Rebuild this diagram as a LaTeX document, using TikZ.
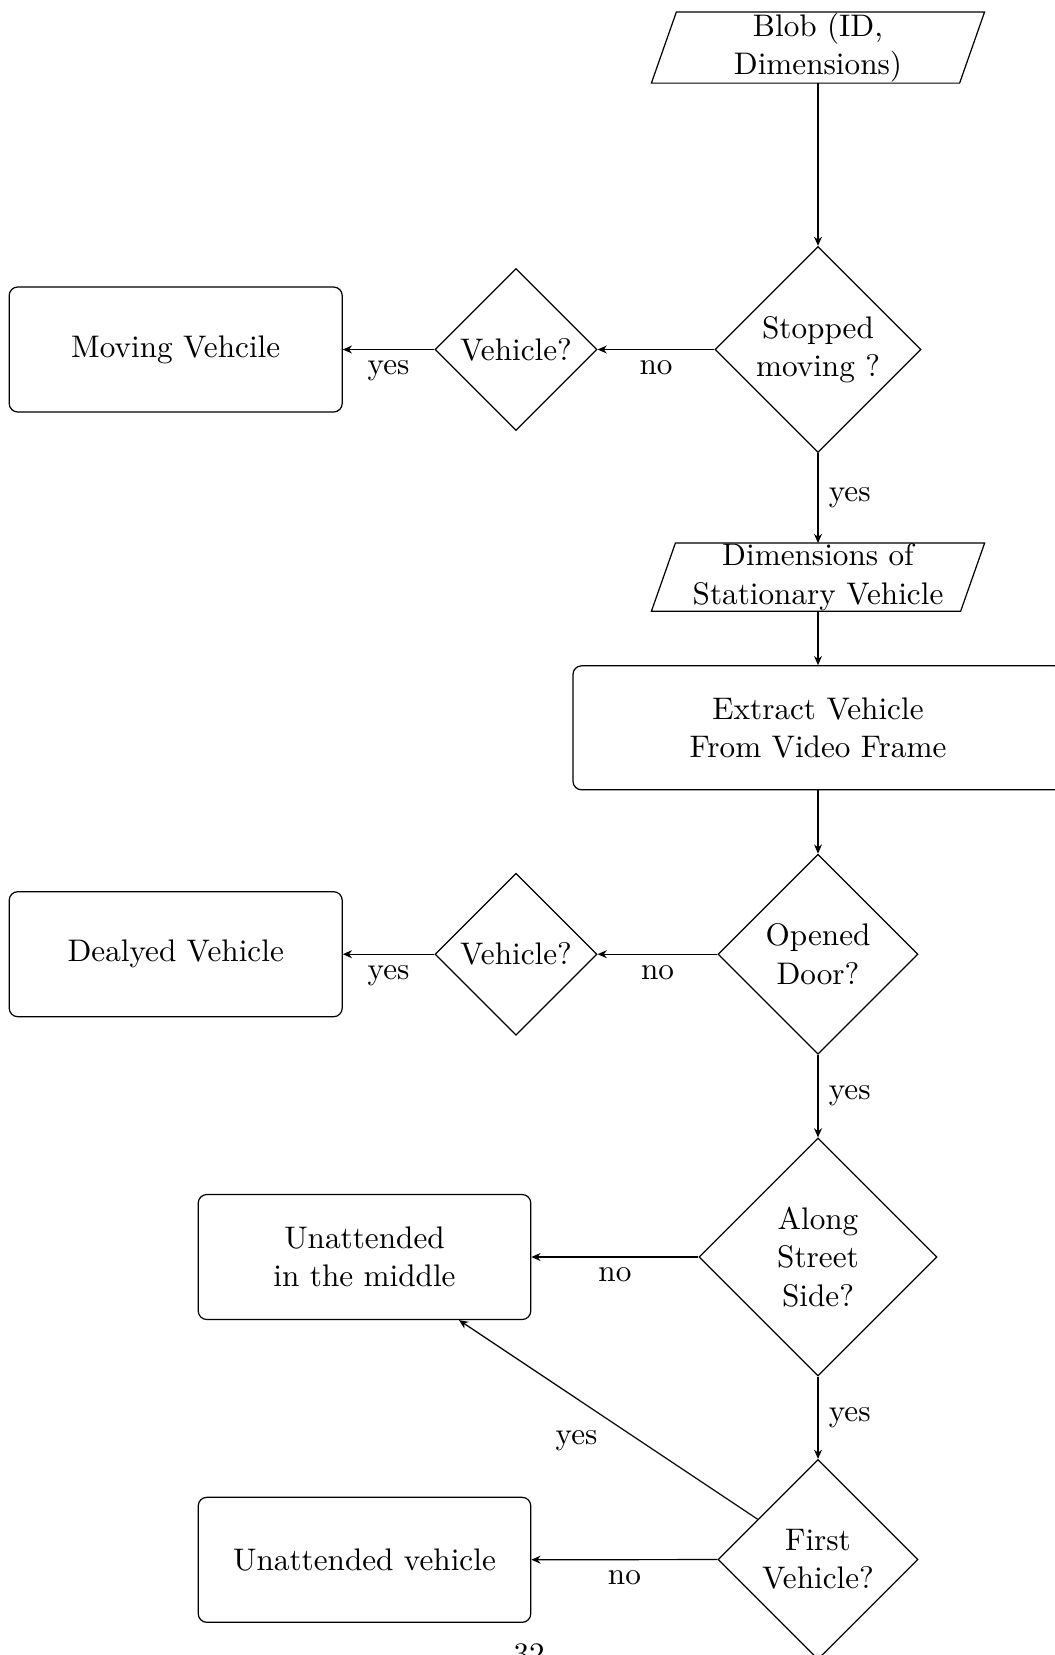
\documentclass[tikz,border=0pt]{standalone}
\usetikzlibrary{shapes.geometric,arrows.meta}
\newdimen\pu \pu=0.3268pt
\newcommand\drawslant[2]{\draw (#1.south west) -- ([xshift=-#2\pu]#1.south east) -- (#1.north east) -- ([xshift=#2\pu]#1.north west) -- cycle;}
\tikzset{
  base/.style={font=\fontsize{10.2}{12.5}\selectfont, align=center},
  dec/.style={base, draw, diamond, inner sep=0pt, aspect=1},
  procbox/.style={base, draw, rectangle, rounded corners=2.8pt, minimum width=333\pu, minimum height=125\pu},
  iobox/.style={base, rectangle, inner sep=0pt, minimum width=332\pu},
  arr/.style={-{Stealth[length=3pt,width=2.6pt]}},
  lbl/.style={font=\fontsize{10.2}{12.5}\selectfont}
}
\begin{document}
\begin{tikzpicture}[x=0.3268pt, y=-0.3268pt]
\useasboundingbox (0,-1.5) rectangle (1055,1653.5);

% input/output shapes
\node[iobox, minimum height=70\pu] (blob) at (818,46) {Blob (ID,\\Dimensions)};
\drawslant{blob}{25}
\node[iobox, minimum height=67\pu] (dims) at (818,575.7) {Dimensions of\\Stationary Vehicle};
\drawslant{dims}{24}

% decisions
\node[dec, minimum width=206\pu, minimum height=206\pu] (stop) at (818,348) {Stopped\\moving ?};
\node[dec, minimum width=162\pu, minimum height=162\pu] (veha) at (516,348) {Vehicle?};
\node[dec, minimum width=200\pu, minimum height=200\pu] (opened) at (818,952.7) {Opened\\Door?};
\node[dec, minimum width=162\pu, minimum height=162\pu] (vehb) at (516,952.7) {Vehicle?};
\node[dec, minimum width=238\pu, minimum height=238\pu] (along) at (818,1255.5) {Along\\Street\\Side?};
\node[dec, minimum width=200\pu, minimum height=200\pu] (first) at (818,1558) {First\\Vehicle?};

% process boxes
\node[procbox] (moving) at (175.7,348) {Moving Vehcile};
\node[procbox, minimum width=490\pu, minimum height=124\pu] (extract) at (818,726.3) {Extract Vehicle\\From Video Frame};
\node[procbox] (delayed) at (175.7,952.7) {Dealyed Vehicle};
\node[procbox, minimum width=332.5\pu] (middle) at (364.5,1255.5) {Unattended\\in the middle};
\node[procbox, minimum width=332.5\pu] (unatt) at (364.5,1558.3) {Unattended vehicle};

% page number (partly cut off)
\node[lbl, anchor=base] (pagenum) at (529,1663) {32};

% connectors
\draw[arr] (blob) -- (stop);
\draw[arr] (stop) -- node[lbl, below] (l1) {no} (veha);
\draw[arr] (veha) -- node[lbl, below] (l2) {yes} (moving);
\draw[arr] (stop) -- node[lbl, right] (l3) {yes} (dims);
\draw[arr] (dims) -- (extract);
\draw[arr] (extract) -- (opened);
\draw[arr] (opened) -- node[lbl, below] (l4) {no} (vehb);
\draw[arr] (vehb) -- node[lbl, below] (l5) {yes} (delayed);
\draw[arr] (opened) -- node[lbl, right] (l6) {yes} (along);
\draw[arr] (along) -- node[lbl, below] (l7) {no} (middle);
\draw[arr] (along) -- node[lbl, right] (l8) {yes} (first);
\draw[arr] (first) -- node[lbl, below left] (l9) {yes} (middle);
\draw[arr] (first) -- node[lbl, below] (l10) {no} (unatt);
\end{tikzpicture}
\end{document}
